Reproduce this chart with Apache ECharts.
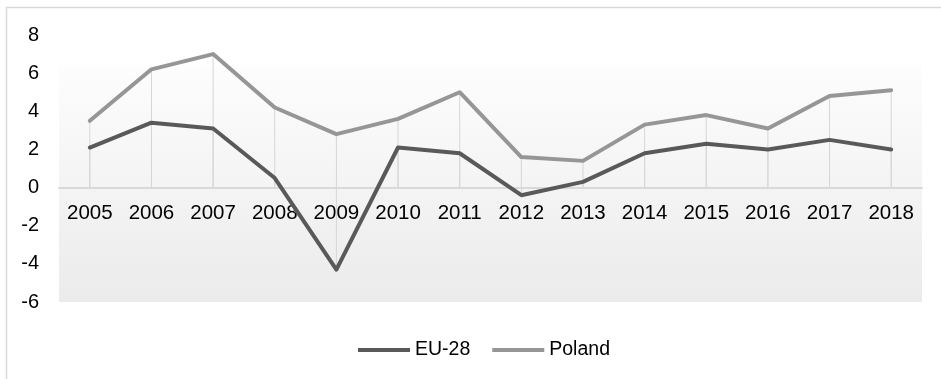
<!DOCTYPE html>
<html>
<head>
<meta charset="utf-8">
<script src="https://cdn.jsdelivr.net/npm/echarts@6/dist/echarts.min.js"></script>
<style>
html,body{margin:0;padding:0;background:#fff;}
#chart{width:941px;height:379px;}
</style>
</head>
<body>
<div id="chart"></div>
<script>
const years = ['2005','2006','2007','2008','2009','2010','2011','2012','2013','2014','2015','2016','2017','2018'];
const eu28 = [2.1, 3.4, 3.1, 0.5, -4.3, 2.1, 1.8, -0.4, 0.3, 1.8, 2.3, 2.0, 2.5, 2.0];
const poland = [3.5, 6.2, 7.0, 4.2, 2.8, 3.6, 5.0, 1.6, 1.4, 3.3, 3.8, 3.1, 4.8, 5.1];
const yMin = -6, yMax = 8, yStep = 2;

const chart = echarts.init(document.getElementById('chart'), null, {renderer: 'canvas'});
const font = 'Liberation Sans, Arial, sans-serif';
chart.setOption({
  animation: false,
  backgroundColor: '#fff',
  graphic: [
    {type: 'rect', z: -10, silent: true,
     shape: {x: 6.5, y: 7.5, width: 1000, height: 1000},
     style: {fill: 'none', stroke: '#d9d9d9', lineWidth: 1.5}},
    {type: 'rect', z: -10, silent: true,
     shape: {x: 59, y: 65, width: 863, height: 237},
     style: {fill: new echarts.graphic.LinearGradient(0, 0, 0, 1, [
       {offset: 0, color: '#fdfdfd'},
       {offset: 1, color: '#ebebeb'}
     ])}}
  ],
  grid: {left: 59, right: 19, top: 35, bottom: 77, containLabel: false},
  legend: {
    left: 353, top: 335,
    itemWidth: 52, itemHeight: 4, itemGap: 22,
    data: [{name: 'EU-28', icon: 'rect'}, {name: 'Poland', icon: 'rect'}],
    textStyle: {fontFamily: font, fontSize: 19.5, color: '#000'}
  },
  xAxis: {
    type: 'category', data: years, boundaryGap: true,
    axisLine: {onZero: true, lineStyle: {color: '#d9d9d9', width: 2}},
    axisTick: {show: false},
    axisLabel: {fontFamily: font, fontSize: 20.5, color: '#000', margin: -99, interval: 0},
    splitLine: {show: false}
  },
  yAxis: {
    type: 'value', min: yMin, max: yMax, interval: yStep,
    axisLine: {show: false}, axisTick: {show: false}, splitLine: {show: false},
    axisLabel: {fontFamily: font, fontSize: 20, color: '#000', margin: 20}
  },
  series: [
    {name: 'dropP', type: 'bar', data: poland, barWidth: 1, barGap: '-100%', silent: true,
     itemStyle: {color: '#d6d6d6'}, z: 1, legendHoverLink: false},
    {name: 'dropE', type: 'bar', data: eu28, barWidth: 1, barGap: '-100%', silent: true,
     itemStyle: {color: '#d6d6d6'}, z: 1, legendHoverLink: false},
    {name: 'EU-28', type: 'line', data: eu28, symbol: 'none', z: 5,
     lineStyle: {color: '#595959', width: 4, cap: 'round', join: 'round'},
     itemStyle: {color: '#595959'}},
    {name: 'Poland', type: 'line', data: poland, symbol: 'none', z: 4,
     lineStyle: {color: '#969696', width: 4, cap: 'round', join: 'round'},
     itemStyle: {color: '#969696'}}
  ]
});
</script>
</body>
</html>
